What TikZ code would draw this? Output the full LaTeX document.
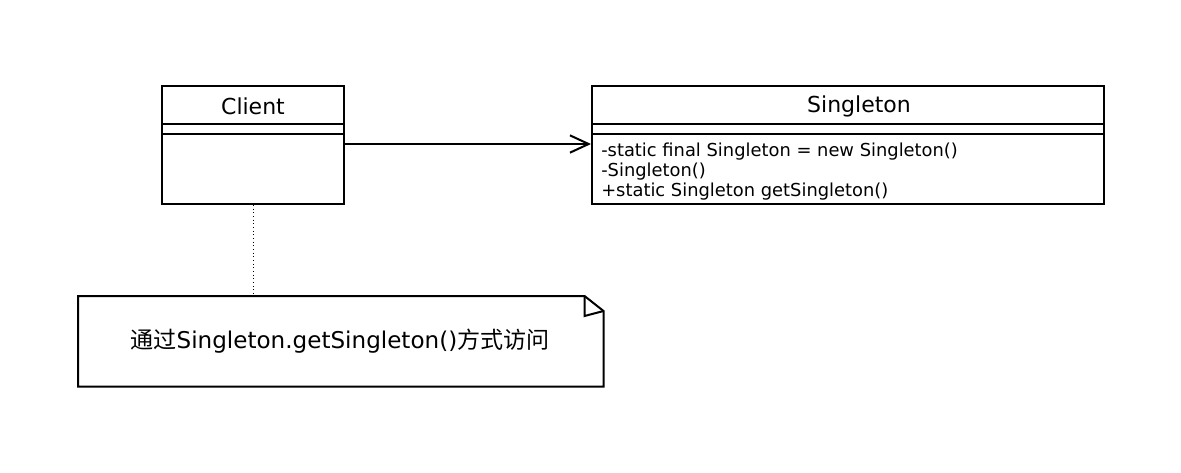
\documentclass[tikz,border=0pt]{standalone}
\usepackage{fontspec}
\setmainfont{DejaVu Sans}
\newfontfamily\cjk{Noto Sans CJK SC}
\usetikzlibrary{arrows.meta, positioning}

\begin{document}
\begin{tikzpicture}[
    x=0.75pt, y=-0.75pt,
    class box/.style={draw=black, line width=1.5pt, anchor=north west, inner sep=0pt, minimum height=88.5pt},
    class name/.style={font=\fontsize{16.5}{19}\selectfont},
    member list/.style={anchor=north west, align=left, inner sep=0pt, font=\fontsize{13.4}{15}\selectfont},
    note text/.style={font=\fontsize{17.3}{20}\selectfont}
]
        \useasboundingbox (0,0) rectangle (1181,472);

        % classes
        \node[class box, minimum width=136.5pt] (client) at (161,85) {};
        \node[class box, minimum width=384pt] (singleton) at (591,85) {};
        \node[class name] (client name) at (253,106) {Client};
        \node[class name] (singleton name) at (859,106) {Singleton};
        \foreach \b in {client, singleton} {
            \draw[line width=1.5pt] (\b.west |- 0,124) -- (\b.east |- 0,124);
            \draw[line width=1.5pt] (\b.west |- 0,134) -- (\b.east |- 0,134);
        }
        \node[member list] (members) at (601,142.5) {-static final Singleton = new Singleton()\\-Singleton()\\+static Singleton getSingleton()};

        % association
        \coordinate (assoc) at (0,144);
        \draw[line width=1.5pt, -{Straight Barb[length=14pt, width=13pt, line width=1.5pt]}] (client.east |- assoc) -- (singleton.west |- assoc);

        % note
        \node[minimum width=393.75pt, minimum height=67.5pt, anchor=north west, inner sep=0pt] (note) at (78,296) {};
        \draw[line width=1.5pt] (note.north west) -- ([xshift=-14.25pt]note.north east) -- ([yshift=-11.25pt]note.north east) -- (note.south east) -- (note.south west) -- cycle;
        \draw[line width=1.5pt] ([xshift=-14.25pt]note.north east) -- ([xshift=-14.25pt, yshift=-15pt]note.north east) -- ([yshift=-11.25pt]note.north east);
        \node[note text] (note label) at (340,341) {{\cjk 通过}Singleton.getSingleton(){\cjk 方式访问}};
        \draw[dotted, line width=0.75pt] (client.south) -- (client.south |- note.north);
    \end{tikzpicture}
\end{document}
